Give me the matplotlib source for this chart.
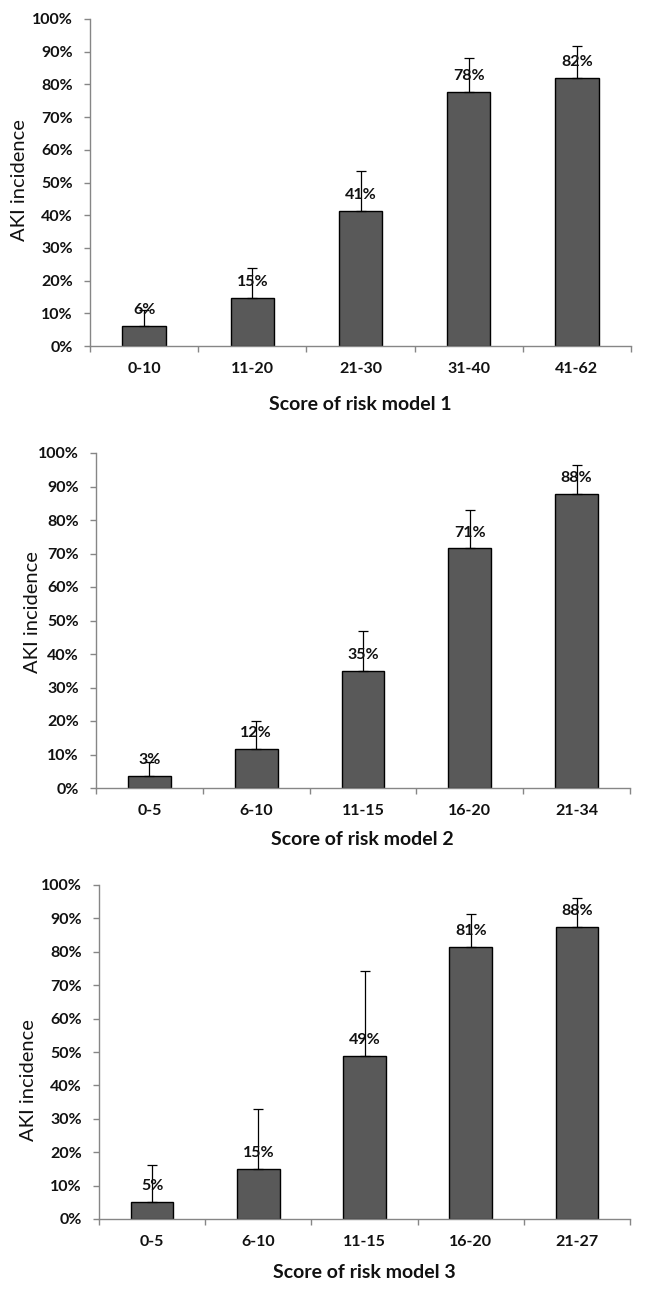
import matplotlib
matplotlib.use("Agg")
import matplotlib.pyplot as plt
import numpy as np

# ---- data ----
cats1 = ["0-10", "11-20", "21-30", "31-40", "41-62"]
vals1 = [6.0, 14.8, 41.2, 77.8, 82.0]
upper1 = [11.0, 23.9, 53.5, 88.1, 91.6]
labels1 = ["6%", "15%", "41%", "78%", "82%"]

cats2 = ["0-5", "6-10", "11-15", "16-20", "21-34"]
vals2 = [3.5, 11.6, 35.0, 71.5, 87.8]
upper2 = [7.7, 19.9, 47.0, 82.9, 96.5]
labels2 = ["3%", "12%", "35%", "71%", "88%"]

cats3 = ["0-5", "6-10", "11-15", "16-20", "21-27"]
vals3 = [5.2, 14.9, 48.9, 81.3, 87.5]
upper3 = [16.2, 32.9, 74.3, 91.4, 96.2]
labels3 = ["5%", "15%", "49%", "81%", "88%"]

yticks = [0, 10, 20, 30, 40, 50, 60, 70, 80, 90, 100]
ytick_labels = ["0%", "10%", "20%", "30%", "40%", "50%", "60%", "70%", "80%", "90%", "100%"]
ylabel = "AKI incidence"
xlabels = ["Score of risk model 1", "Score of risk model 2", "Score of risk model 3"]

FONT = ["Lato", "DejaVu Sans"]
plt.rcParams["font.family"] = FONT

W, H = 649, 1299
fig = plt.figure(figsize=(W / 100, H / 100), dpi=100)

# panel pixel boxes: (left, top, right, bottom)
boxes = [(90, 19, 631, 346), (96, 453, 630, 788), (99, 885, 630, 1219)]
ylab_pos = [(-0.131, 0.508), (-0.118, 0.525), (-0.132, 0.416)]
xlab_pos = [(0.499, -0.180), (0.498, -0.155), (0.5, -0.159)]

panels = [(cats1, vals1, upper1, labels1),
          (cats2, vals2, upper2, labels2),
          (cats3, vals3, upper3, labels3)]

axis_gray = "#868686"
bar_color = "#595959"
txt = "#111111"

for i, (cats, vals, upper, labs) in enumerate(panels):
    l, t, r, b = boxes[i]
    ax = fig.add_axes([l / W, (H - b) / H, (r - l) / W, (b - t) / H])
    x = np.arange(len(cats))
    vals_a = np.array(vals)
    err_up = np.array(upper) - vals_a
    ax.bar(x, vals_a, width=0.4, color=bar_color, edgecolor="black", linewidth=1.0, zorder=2)
    ax.errorbar(x, vals_a, yerr=[np.zeros_like(err_up), err_up], fmt="none",
                ecolor="black", elinewidth=0.9, capsize=3.5, capthick=0.9, zorder=3)
    for xi, v, lab in zip(x, vals_a, labs):
        ax.annotate(lab, (xi, v), xytext=(0, 11.5), textcoords="offset points",
                    ha="center", va="center", fontsize=11.5, fontweight="bold",
                    color=txt, zorder=4)
    ax.set_xlim(-0.5, len(cats) - 0.5)
    ax.set_ylim(0, 100)
    ax.set_yticks(yticks)
    ax.set_yticklabels(ytick_labels, fontsize=11.5, fontweight="bold", color=txt)
    # x ticks at category boundaries, labels at centers
    ax.set_xticks(np.arange(len(cats) + 1) - 0.5)
    ax.set_xticklabels([])
    ax.set_xticks(x, minor=True)
    ax.set_xticklabels(cats, minor=True, fontsize=11.5, fontweight="bold", color=txt)
    ax.tick_params(axis="x", which="major", length=4, width=1, color=axis_gray, direction="out")
    ax.tick_params(axis="x", which="minor", length=0, pad=11.5)
    ax.tick_params(axis="y", length=4, width=1, color=axis_gray, direction="out", pad=8.5)
    for s in ["top", "right"]:
        ax.spines[s].set_visible(False)
    for s in ["left", "bottom"]:
        ax.spines[s].set_color(axis_gray)
        ax.spines[s].set_linewidth(1.0)
    ax.set_ylabel(ylabel, fontsize=14.5, color=txt)
    ax.yaxis.set_label_coords(*ylab_pos[i])
    ax.set_xlabel(xlabels[i], fontsize=14, fontweight="bold", color=txt)
    ax.xaxis.set_label_coords(*xlab_pos[i])
    ax.xaxis.label.set_va("center")
    ax.yaxis.label.set_va("center")

fig.savefig("out.png", dpi=100)
